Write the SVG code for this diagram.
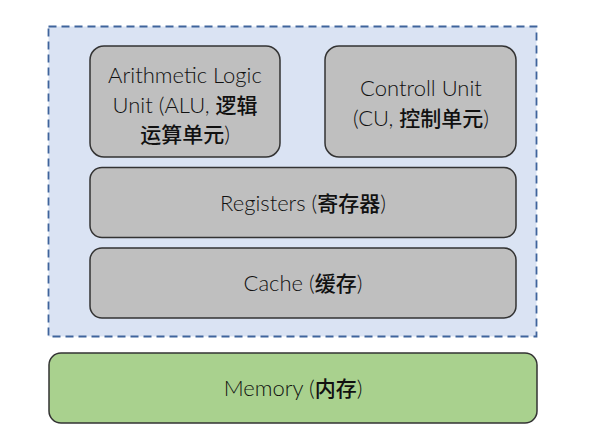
<svg xmlns="http://www.w3.org/2000/svg" width="594" height="436" viewBox="0 0 594 436">
<style>
.box{fill:#bfbfbf;stroke:#333;stroke-width:1.5}
.mem{fill:#a9d18e;stroke:#333;stroke-width:1.5}
.cpu{fill:#dae3f3;stroke:#3f649c;stroke-width:1.8;stroke-dasharray:8 5}
text{font-family:Lato,"Noto Sans CJK SC",sans-serif;font-weight:300;font-size:22px;fill:#111;text-anchor:middle}
.cjk{font-family:"Noto Sans CJK SC",sans-serif;font-weight:500;font-size:21px;fill:#111}
</style>
<rect width="594" height="436" fill="#fff"/>
<g id="cpu"><rect class="cpu" x="48.5" y="26.5" width="488" height="310"/></g>
<g id="alu">
<rect class="box" x="90" y="46" width="190" height="111" rx="14"/>
<text x="185" y="83">Arithmetic Logic</text>
<text x="185" y="113">Unit (ALU, <tspan class="cjk">逻辑</tspan></text>
<text x="185" y="142"><tspan class="cjk">运算单元</tspan>)</text>
</g>
<g id="cu">
<rect class="box" x="325" y="46" width="191" height="111" rx="14"/>
<text x="421" y="96">Controll Unit</text>
<text x="421" y="126">(CU, <tspan class="cjk">控制单元</tspan>)</text>
</g>
<g id="registers">
<rect class="box" x="90" y="167.5" width="426" height="70" rx="12"/>
<text x="303" y="211">Registers (<tspan class="cjk">寄存器</tspan>)</text>
</g>
<g id="cache">
<rect class="box" x="90" y="248" width="426" height="70" rx="12"/>
<text x="303" y="291">Cache (<tspan class="cjk">缓存</tspan>)</text>
</g>
<g id="memory">
<rect class="mem" x="49" y="353" width="488" height="70" rx="12"/>
<text x="293" y="396">Memory (<tspan class="cjk">内存</tspan>)</text>
</g>
<g id="connectors"></g>
</svg>
